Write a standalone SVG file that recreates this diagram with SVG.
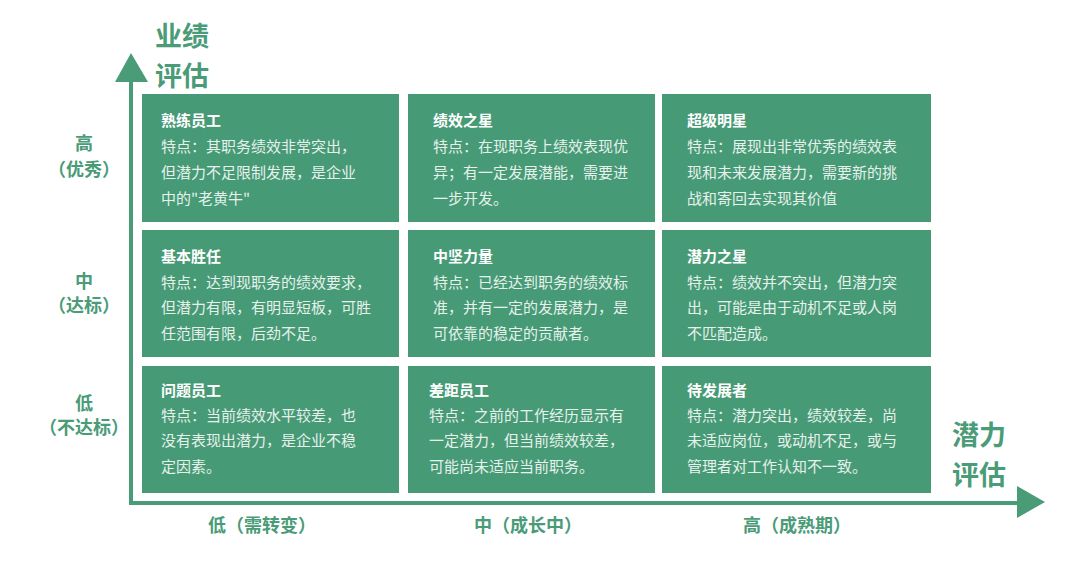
<svg xmlns="http://www.w3.org/2000/svg" width="1080" height="567" viewBox="0 0 1080 567">
<style>
.cell{fill:#479a76}
.t{font-family:"Noto Sans CJK SC","Noto Sans",sans-serif;font-size:15px;font-weight:700;fill:#ffffff}
.b{font-family:"Noto Sans CJK SC","Noto Sans",sans-serif;font-size:15px;fill:#e6f1ec}
.ax{font-family:"Noto Sans CJK SC","Noto Sans",sans-serif;font-size:18px;font-weight:700;fill:#4a9b77;text-anchor:middle}
.big{font-family:"Noto Sans CJK SC","Noto Sans",sans-serif;font-size:27px;font-weight:700;fill:#4a9b77}
.axis{stroke:#4a9b77;stroke-width:4;fill:none}
.head{fill:#4a9b77}
</style>
<rect width="1080" height="567" fill="#ffffff"/>
<g id="connectors">
<line class="axis" x1="131" y1="80" x2="131" y2="503"/>
<polygon class="head" points="131,53 115,82 148,82"/>
<line class="axis" x1="129" y1="503" x2="1020" y2="503"/>
<polygon class="head" points="1045,502 1017,486 1017,518"/>
</g>
<g id="axis-y-title"><text class="big" x="155" y="46">业绩</text><text class="big" x="155" y="86">评估</text></g>
<g id="axis-x-title"><text class="big" x="952" y="445">潜力</text><text class="big" x="952" y="485">评估</text></g>
<g id="y-high"><text class="ax" x="84" y="150">高</text><text class="ax" x="84" y="176">（优秀）</text></g>
<g id="y-mid"><text class="ax" x="84" y="288">中</text><text class="ax" x="84" y="312">（达标）</text></g>
<g id="y-low"><text class="ax" x="84" y="410">低</text><text class="ax" x="84" y="434">（不达标）</text></g>
<g id="x-low"><text class="ax" x="262" y="532">低（需转变）</text></g>
<g id="x-mid"><text class="ax" x="528" y="532">中（成长中）</text></g>
<g id="x-high"><text class="ax" x="797" y="532">高（成熟期）</text></g>

<g id="cell-1-1"><rect class="cell" x="142" y="94" width="257" height="128"/>
<text class="t" x="161" y="126">熟练员工</text>
<text class="b" x="161" y="152">特点：其职务绩效非常突出，</text>
<text class="b" x="161" y="178">但潜力不足限制发展，是企业</text>
<text class="b" x="161" y="204">中的"老黄牛"</text></g>
<g id="cell-1-2"><rect class="cell" x="408" y="94" width="247" height="128"/>
<text class="t" x="433" y="126">绩效之星</text>
<text class="b" x="433" y="152">特点：在现职务上绩效表现优</text>
<text class="b" x="433" y="178">异；有一定发展潜能，需要进</text>
<text class="b" x="433" y="204">一步开发。</text></g>
<g id="cell-1-3"><rect class="cell" x="662" y="94" width="269" height="128"/>
<text class="t" x="687" y="126">超级明星</text>
<text class="b" x="687" y="152">特点：展现出非常优秀的绩效表</text>
<text class="b" x="687" y="178">现和未来发展潜力，需要新的挑</text>
<text class="b" x="687" y="204">战和寄回去实现其价值</text></g>

<g id="cell-2-1"><rect class="cell" x="142" y="230" width="257" height="127"/>
<text class="t" x="161" y="262">基本胜任</text>
<text class="b" x="161" y="288">特点：达到现职务的绩效要求，</text>
<text class="b" x="161" y="313">但潜力有限，有明显短板，可胜</text>
<text class="b" x="161" y="339">任范围有限，后劲不足。</text></g>
<g id="cell-2-2"><rect class="cell" x="408" y="230" width="247" height="127"/>
<text class="t" x="433" y="262">中坚力量</text>
<text class="b" x="433" y="288">特点：已经达到职务的绩效标</text>
<text class="b" x="433" y="313">准，并有一定的发展潜力，是</text>
<text class="b" x="433" y="339">可依靠的稳定的贡献者。</text></g>
<g id="cell-2-3"><rect class="cell" x="662" y="230" width="269" height="127"/>
<text class="t" x="687" y="262">潜力之星</text>
<text class="b" x="687" y="288">特点：绩效并不突出，但潜力突</text>
<text class="b" x="687" y="313">出，可能是由于动机不足或人岗</text>
<text class="b" x="687" y="339">不匹配造成。</text></g>

<g id="cell-3-1"><rect class="cell" x="142" y="366" width="257" height="127"/>
<text class="t" x="161" y="396">问题员工</text>
<text class="b" x="161" y="421">特点：当前绩效水平较差，也</text>
<text class="b" x="161" y="446">没有表现出潜力，是企业不稳</text>
<text class="b" x="161" y="472">定因素。</text></g>
<g id="cell-3-2"><rect class="cell" x="408" y="366" width="247" height="127"/>
<text class="t" x="429" y="396">差距员工</text>
<text class="b" x="429" y="421">特点：之前的工作经历显示有</text>
<text class="b" x="429" y="446">一定潜力，但当前绩效较差，</text>
<text class="b" x="429" y="472">可能尚未适应当前职务。</text></g>
<g id="cell-3-3"><rect class="cell" x="662" y="366" width="269" height="127"/>
<text class="t" x="687" y="396">待发展者</text>
<text class="b" x="687" y="421">特点：潜力突出，绩效较差，尚</text>
<text class="b" x="687" y="446">未适应岗位，或动机不足，或与</text>
<text class="b" x="687" y="472">管理者对工作认知不一致。</text></g>
</svg>
